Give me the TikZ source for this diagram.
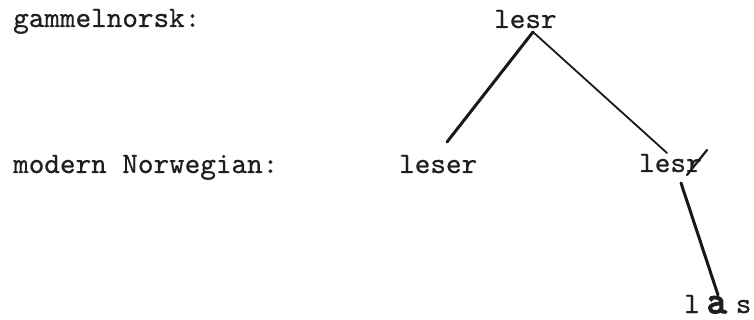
\documentclass[tikz,border=0pt]{standalone}
\usepackage{fontspec}
\newfontfamily\typett{lmmono10-regular.otf}[FakeBold=0.6]
\newfontfamily\heavytt{lmmono10-regular.otf}[FakeBold=4]
\tikzset{
  word/.style={inner sep=0pt, anchor=base west, text=black!88,
    font=\typett\fontsize{29.7}{30}\selectfont},
  heavyline/.style={line width=3pt, line cap=round, black!90},
  lightline/.style={line width=1.8pt, line cap=round, black!90},
  strikeline/.style={line width=2.2pt, line cap=round, black!90}
}
\begin{document}
\begin{tikzpicture}[x=1pt,y=-1pt]
\useasboundingbox (0,0) rectangle (754,320);
% labels
\node[word] (old) at (13,27) {gammelnorsk:};
\node[word] (mod) at (13,173) {modern Norwegian:};
% words
\node[word] (lesr) at (494,28) {lesr};
\node[word] (leser) at (399,173) {leser};
\node[word] (lesrb) at (639,172) {lesr};
\node[word] (las) at (684,313) {l\kern7pt{\heavytt\fontsize{38}{38}\selectfont a}\kern9pt s};
% connector ends
\coordinate (apex) at (533,32);
\coordinate (lft) at (447,142);
\coordinate (rgt) at (667,153);
\coordinate (b1) at (681,183);
\coordinate (b2) at (718,295);
\coordinate (s1) at (687,175);
\coordinate (s2) at (707,150);
% connectors
\draw[heavyline] (apex) -- (lft);
\draw[lightline] (apex) -- (rgt);
\draw[heavyline] (b1) -- (b2);
\draw[strikeline] (s1) -- (s2);
\end{tikzpicture}
\end{document}
